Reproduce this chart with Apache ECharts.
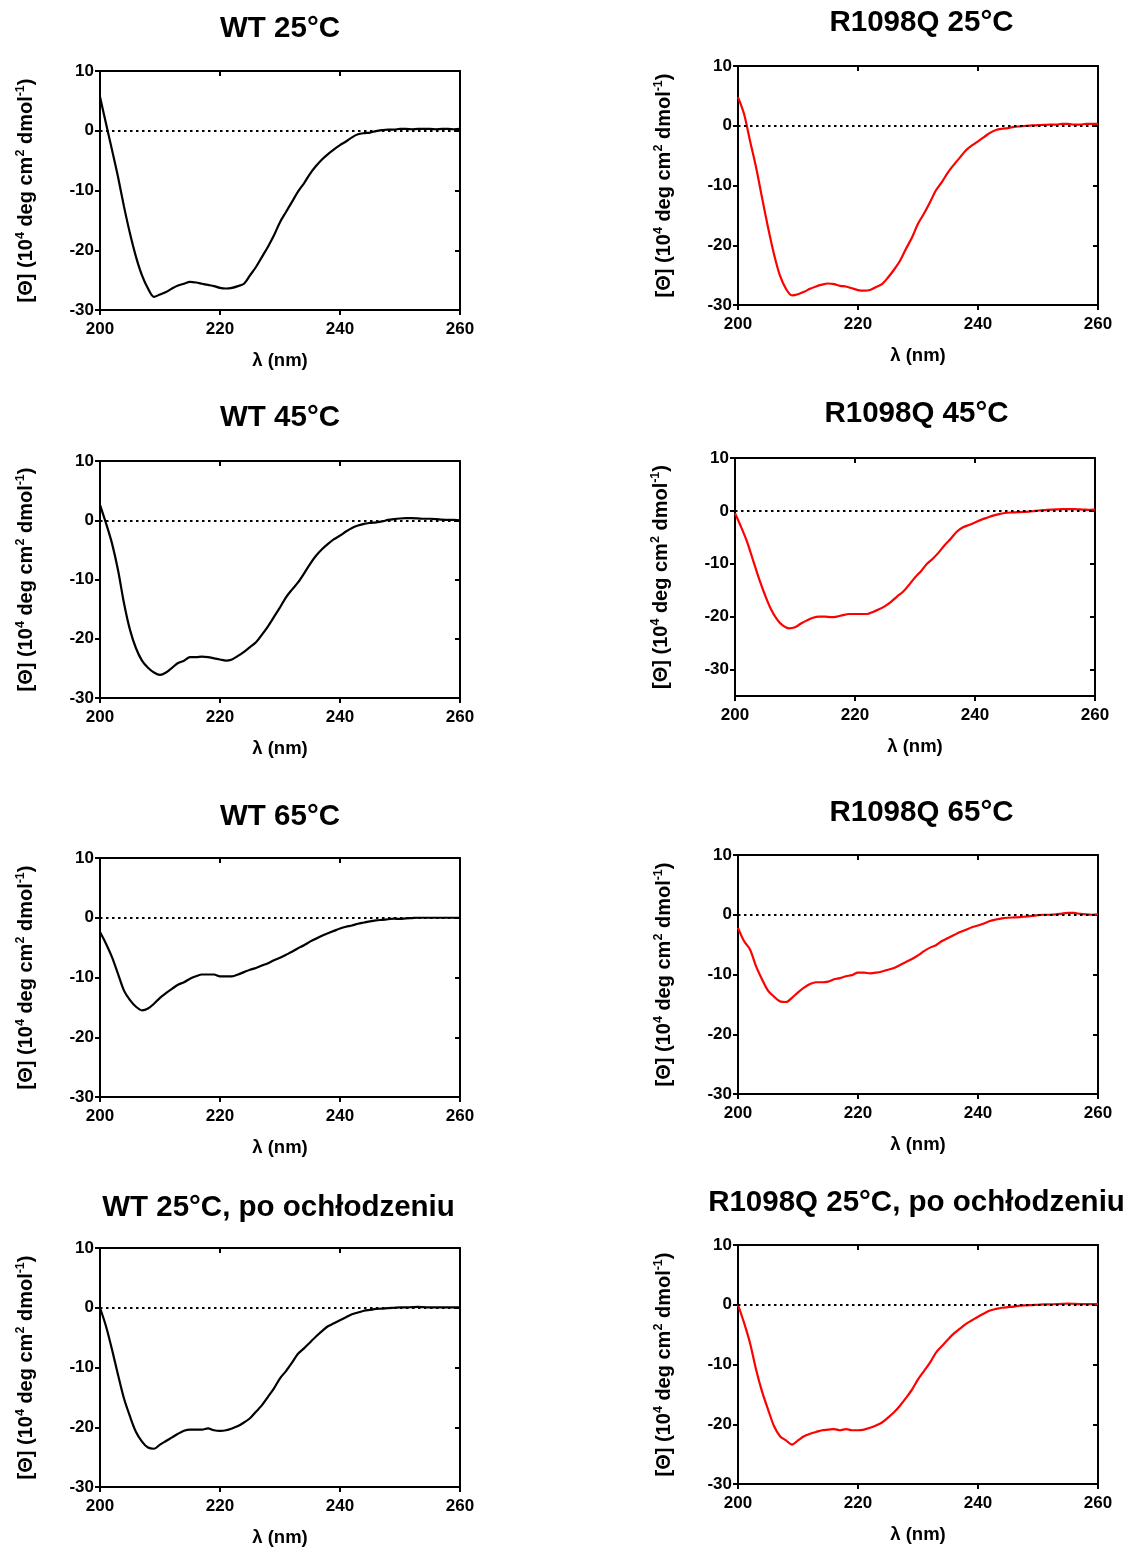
<!DOCTYPE html>
<html>
<head>
<meta charset="utf-8">
<script src="https://cdn.jsdelivr.net/npm/echarts@6/dist/echarts.min.js"></script>
<style>
html,body{margin:0;padding:0;background:#fff;}
#chart{width:1132px;height:1549px;}
</style>
</head>
<body>
<div id="chart"></div>
<script>
// ---------- DATA ----------
const wavelength = [200,201,202,203,204,205,206,207,208,209,210,211,212,213,214,215,216,217,218,219,220,221,222,223,224,225,226,227,228,229,230,231,232,233,234,235,236,237,238,239,240,241,242,243,244,245,246,247,248,249,250,251,252,253,254,255,256,257,258,259,260];
const xTicks = [200, 220, 240, 260];
const yTicks = [-30, -20, -10, 0, 10];

const titles = ['WT 25°C','R1098Q 25°C','WT 45°C','R1098Q 45°C','WT 65°C','R1098Q 65°C','WT 25°C, po ochłodzeniu','R1098Q 25°C, po ochłodzeniu'];

const wt25 = [5.7,1.2,-3.2,-7.7,-12.7,-17.2,-21.1,-24.2,-26.4,-27.8,
  -27.4,-27.0,-26.4,-25.9,-25.6,-25.3,-25.4,-25.6,-25.8,-26.0,
  -26.3,-26.4,-26.3,-26.0,-25.6,-24.2,-22.8,-21.1,-19.4,-17.5,
  -15.3,-13.6,-11.9,-10.2,-8.8,-7.2,-5.9,-4.8,-3.9,-3.1,
  -2.4,-1.8,-1.1,-0.6,-0.4,-0.3,-0.05,0.1,0.2,0.2,
  0.3,0.3,0.25,0.3,0.3,0.3,0.25,0.3,0.3,0.25,0.3];
const r25 = [4.8,2.0,-2.5,-6.9,-12.0,-17.0,-21.5,-25.1,-27.3,-28.4,
  -28.2,-27.8,-27.3,-26.9,-26.6,-26.4,-26.5,-26.8,-26.9,-27.2,
  -27.5,-27.6,-27.5,-27.0,-26.5,-25.4,-24.1,-22.6,-20.6,-18.7,
  -16.4,-14.7,-12.8,-10.8,-9.4,-7.8,-6.5,-5.3,-4.1,-3.3,
  -2.6,-1.9,-1.2,-0.7,-0.5,-0.4,-0.2,-0.1,0,0.05,
  0.1,0.15,0.2,0.2,0.3,0.3,0.2,0.2,0.3,0.3,0.3];
const wt45 = [2.6,-0.5,-3.9,-8.4,-14.0,-18.5,-21.6,-23.7,-24.9,-25.7,
  -26.1,-25.7,-24.9,-24.1,-23.7,-23.1,-23.1,-23.0,-23.1,-23.3,
  -23.5,-23.7,-23.5,-22.9,-22.2,-21.4,-20.6,-19.3,-17.9,-16.3,
  -14.7,-13.0,-11.7,-10.5,-9.0,-7.4,-6.0,-4.9,-4.0,-3.2,
  -2.6,-1.9,-1.3,-0.9,-0.6,-0.45,-0.35,-0.2,0.05,0.2,
  0.3,0.35,0.35,0.3,0.25,0.25,0.2,0.1,0.05,0.05,0];
const r45 = [-0.45,-3.0,-5.8,-9.3,-12.8,-15.9,-18.6,-20.5,-21.7,-22.2,
  -22.0,-21.3,-20.7,-20.2,-20.0,-20.0,-20.1,-20.0,-19.7,-19.5,
  -19.5,-19.5,-19.5,-19.1,-18.6,-18.0,-17.2,-16.2,-15.3,-14.0,
  -12.6,-11.4,-10.0,-9.0,-7.8,-6.4,-5.2,-3.9,-3.1,-2.65,
  -2.2,-1.7,-1.3,-0.9,-0.6,-0.4,-0.3,-0.25,-0.2,-0.15,
  0,0.1,0.2,0.25,0.3,0.35,0.35,0.3,0.25,0.2,0.3];
const wt65 = [-2.4,-4.35,-6.6,-9.4,-12.2,-13.8,-14.9,-15.5,-15.2,-14.4,
  -13.4,-12.6,-11.9,-11.2,-10.8,-10.2,-9.8,-9.5,-9.5,-9.5,
  -9.8,-9.8,-9.8,-9.5,-9.1,-8.7,-8.4,-8.0,-7.6,-7.1,
  -6.7,-6.2,-5.7,-5.1,-4.6,-4.0,-3.5,-3.0,-2.6,-2.2,
  -1.8,-1.5,-1.3,-1.0,-0.8,-0.6,-0.45,-0.35,-0.25,-0.15,
  -0.2,-0.1,-0.05,0,0,0,0,0,0,0,0];
const r65 = [-2.2,-4.4,-5.8,-8.6,-10.8,-12.7,-13.7,-14.5,-14.6,-13.9,
  -13.0,-12.2,-11.6,-11.3,-11.3,-11.2,-10.8,-10.6,-10.3,-10.1,
  -9.7,-9.7,-9.8,-9.7,-9.5,-9.2,-8.9,-8.4,-7.9,-7.4,
  -6.8,-6.1,-5.5,-5.1,-4.4,-3.9,-3.4,-2.9,-2.5,-2.1,
  -1.8,-1.45,-1.05,-0.8,-0.6,-0.5,-0.45,-0.4,-0.3,-0.2,
  -0.05,0,0,0.05,0.2,0.3,0.3,0.15,0.05,0,0.05];
const wtCooled = [0,-3.1,-7.0,-11.2,-15.2,-18.2,-20.8,-22.4,-23.4,-23.6,
  -22.9,-22.3,-21.7,-21.1,-20.6,-20.4,-20.4,-20.4,-20.2,-20.5,
  -20.6,-20.5,-20.2,-19.8,-19.2,-18.5,-17.4,-16.3,-14.9,-13.5,
  -11.8,-10.6,-9.2,-7.7,-6.8,-5.8,-4.8,-3.9,-3.1,-2.6,
  -2.1,-1.6,-1.1,-0.8,-0.5,-0.35,-0.2,-0.15,-0.05,0,
  0.05,0.05,0.1,0.15,0.1,0.05,0.05,0.05,0.05,0.05,0.05];
const rCooled = [0,-3.0,-6.4,-10.8,-14.5,-17.5,-20.3,-22.0,-22.7,-23.4,
  -22.7,-22.0,-21.6,-21.3,-21.0,-20.9,-20.8,-21.0,-20.8,-21.0,
  -21.0,-20.9,-20.6,-20.2,-19.7,-18.9,-18.0,-16.9,-15.6,-14.2,
  -12.5,-11.1,-9.7,-8.0,-6.9,-5.8,-4.8,-4.0,-3.2,-2.6,
  -2.0,-1.45,-0.95,-0.7,-0.5,-0.4,-0.3,-0.15,-0.1,-0.05,
  0,0.05,0.05,0.1,0.15,0.2,0.15,0.1,0.1,0.1,0.1];

const seriesValues = [wt25, r25, wt45, r45, wt65, r65, wtCooled, rCooled];

// ---------- LAYOUT / STYLE ----------
const FONT = '"Liberation Sans", Arial, Helvetica, sans-serif';
const BLACK = '#000000', RED = '#ff0000';
const layout = [
  {left:100, top:71,   width:360, height:239, yMin:-30, color:BLACK, tx:280,   ty:29},
  {left:738, top:66,   width:360, height:239, yMin:-30, color:RED,   tx:921.5, ty:23},
  {left:100, top:461,  width:360, height:237, yMin:-30, color:BLACK, tx:280,   ty:418},
  {left:735, top:458,  width:360, height:238, yMin:-35, color:RED,   tx:916.5, ty:414},
  {left:100, top:858,  width:360, height:239, yMin:-30, color:BLACK, tx:280,   ty:817},
  {left:738, top:855,  width:360, height:239, yMin:-30, color:RED,   tx:921.5, ty:813},
  {left:100, top:1248, width:360, height:239, yMin:-30, color:BLACK, tx:278.5, ty:1208},
  {left:738, top:1245, width:360, height:239, yMin:-30, color:RED,   tx:916.5, ty:1203}
];

const axisLineStyle = {color: BLACK, width: 2};
const labelStyle = {color: BLACK, fontWeight: 'bold', fontSize: 17, fontFamily: FONT};

const grids = [], xAxes = [], yAxes = [], series = [], graphics = [];

layout.forEach((p, i) => {
  grids.push({left: p.left, top: p.top, width: p.width, height: p.height, containLabel: false});
  // bottom x axis
  xAxes.push({
    gridIndex: i, type: 'value', min: 200, max: 260, position: 'bottom',
    axisLine: {show: true, onZero: false, lineStyle: axisLineStyle},
    axisTick: {show: true, inside: false, length: 5, lineStyle: axisLineStyle, customValues: xTicks},
    axisLabel: Object.assign({margin: 11, customValues: xTicks}, labelStyle),
    splitLine: {show: false},
    name: 'λ (nm)', nameLocation: 'middle', nameGap: 41,
    nameTextStyle: {color: BLACK, fontWeight: 'bold', fontSize: 18.5, fontFamily: FONT}
  });
  // top x axis (frame)
  xAxes.push({
    gridIndex: i, type: 'value', min: 200, max: 260, position: 'top',
    axisLine: {show: true, onZero: false, lineStyle: axisLineStyle},
    axisTick: {show: true, inside: true, length: 5, lineStyle: axisLineStyle, customValues: xTicks},
    axisLabel: {show: false}, splitLine: {show: false}
  });
  // left y axis
  yAxes.push({
    gridIndex: i, type: 'value', min: p.yMin, max: 10, position: 'left',
    axisLine: {show: true, onZero: false, lineStyle: axisLineStyle},
    axisTick: {show: true, inside: false, length: 5, lineStyle: axisLineStyle, customValues: yTicks},
    axisLabel: Object.assign({margin: 6, customValues: yTicks}, labelStyle),
    splitLine: {show: false},
    name: '[Θ] (10{sup|4} deg cm{sup|2} dmol{sup|-1})',
    nameLocation: 'middle', nameRotate: 90, nameGap: 61,
    nameTextStyle: {
      color: BLACK, fontWeight: 'bold', fontSize: 20, fontFamily: FONT, lineHeight: 25,
      rich: {sup: {fontSize: 12.5, fontWeight: 'bold', color: BLACK, fontFamily: FONT, verticalAlign: 'top', lineHeight: 13}}
    }
  });
  // right y axis (frame)
  yAxes.push({
    gridIndex: i, type: 'value', min: p.yMin, max: 10, position: 'right',
    axisLine: {show: true, onZero: false, lineStyle: axisLineStyle},
    axisTick: {show: true, inside: true, length: 5, lineStyle: axisLineStyle, customValues: yTicks},
    axisLabel: {show: false}, splitLine: {show: false}
  });
  const vals = seriesValues[i];
  series.push({
    type: 'line', xAxisIndex: 2 * i, yAxisIndex: 2 * i,
    data: wavelength.map((w, k) => [w, vals[k]]),
    showSymbol: false, symbol: 'none', smooth: 0.3, z: 3,
    lineStyle: {color: p.color, width: 2.2},
    itemStyle: {color: p.color},
    markLine: {
      silent: true, symbol: ['none', 'none'], label: {show: false}, animation: false,
      lineStyle: {color: BLACK, type: [2.5, 3.5], width: 2},
      data: [{yAxis: 0}]
    }
  });
  graphics.push({
    type: 'text', x: p.tx, y: p.ty,
    style: {text: titles[i], fill: BLACK, font: 'bold 29.5px ' + FONT, align: 'center', verticalAlign: 'middle'}
  });
});

const chart = echarts.init(document.getElementById('chart'), null, {renderer: 'canvas'});
chart.setOption({
  backgroundColor: '#ffffff',
  animation: false,
  grid: grids,
  xAxis: xAxes,
  yAxis: yAxes,
  series: series,
  graphic: graphics
});
</script>
</body>
</html>
